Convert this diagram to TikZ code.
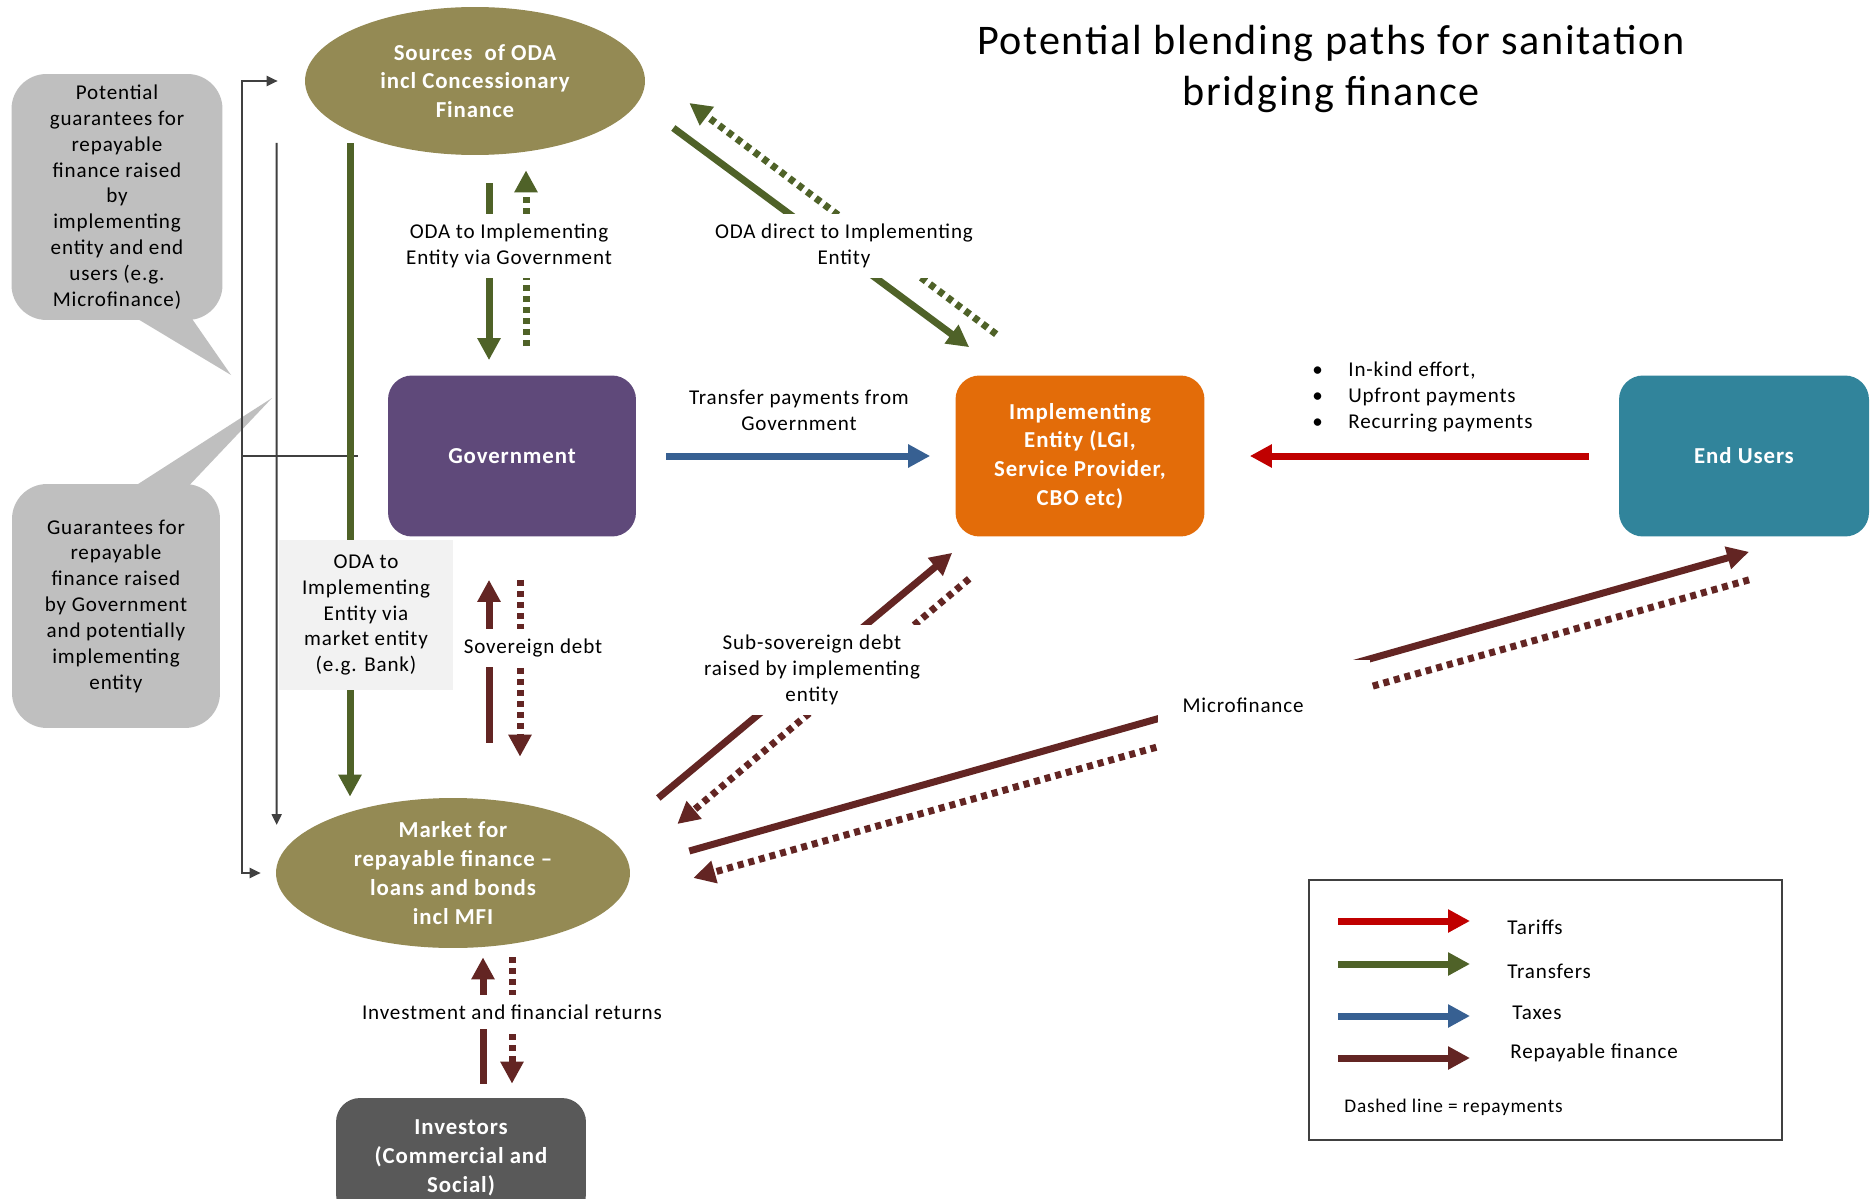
\documentclass[tikz,border=0pt]{standalone}
\usepackage{fontspec}
\setmainfont{Carlito}[LetterSpace=4]
\usepackage{tikz}
\usetikzlibrary{positioning}
\usetikzlibrary{calc}
\usetikzlibrary{arrows.meta}
\usetikzlibrary{shapes.geometric}

\definecolor{oliveoval}{HTML}{948A54}
\definecolor{govpurple}{HTML}{5F497A}
\definecolor{implorange}{HTML}{E36C09}
\definecolor{userteal}{HTML}{31849B}
\definecolor{investgray}{HTML}{595959}
\definecolor{calloutgray}{HTML}{BFBFBF}
\definecolor{bankgray}{HTML}{F2F2F2}
\definecolor{transfergreen}{HTML}{4F6228}
\definecolor{taxblue}{HTML}{376092}
\definecolor{tariffred}{HTML}{C00000}
\definecolor{loanred}{HTML}{632523}
\definecolor{guidegray}{HTML}{404040}

\begin{document}
\begin{tikzpicture}[x=0.02cm, y=-0.02cm,
bigtext/.style={text=white, font=\bfseries\fontsize{13}{16.4}\selectfont, align=center, inner sep=0pt},
fundoval/.style={bigtext, ellipse, fill=oliveoval},
actorbox/.style={bigtext, rectangle, rounded corners=0.48cm, minimum width=4.98cm, minimum height=3.22cm},
callbox/.style={rectangle, rounded corners=0.7cm, fill=calloutgray, align=center, inner sep=0pt, font=\fontsize{12}{14.7}\selectfont},
flowlabel/.style={font=\fontsize{12}{14.7}\selectfont, align=center, fill=white, inner xsep=2pt, inner ysep=0.2cm},
legendtext/.style={font=\fontsize{12}{14.7}\selectfont, anchor=west, inner sep=0pt},
flow/.style={line width=0.14cm, -{Triangle[length=0.44cm, width=0.44cm]}},
transfer/.style={flow, draw=transfergreen},
taxflow/.style={flow, draw=taxblue},
tariff/.style={flow, draw=tariffred},
loan/.style={flow, draw=loanred},
repaid/.style={dash pattern=on 0.12cm off 0.1cm},
guide/.style={draw=guidegray, line width=0.04cm, -{Triangle[length=0.22cm, width=0.2cm]}},
]
\path[use as bounding box, fill=white] (0,0) rectangle (1872,1199);

%Nodes
\node[font=\fontsize{24}{29}\selectfont, align=center] (title) at (1331,69) {Potential blending paths for sanitation\\bridging finance};
\node[fundoval, minimum width=6.8cm, minimum height=2.96cm] (sources) at (475,81) {Sources\ \ of ODA\\incl Concessionary\\Finance};
\node[actorbox, fill=govpurple, minimum width=4.96cm] (gov) at (512,456) {Government};
\node[actorbox, fill=implorange] (impl) at (1080,456) {Implementing\\Entity (LGI,\\Service Provider,\\CBO etc)};
\node[actorbox, fill=userteal, minimum width=5cm] (users) at (1744,456) {End Users};
\node[fundoval, minimum width=7.08cm, minimum height=3cm] (market) at (453,873) {Market for\\repayable finance --\\loans and bonds\\incl MFI};
\node[actorbox, fill=investgray, minimum width=5cm, minimum height=2.4cm] (investors) at (461,1158) {Investors\\(Commercial and\\Social)};

%Callouts
\node[callbox, minimum width=4.22cm, minimum height=4.92cm] (guarUsers) at (117,197) {Potential\\guarantees for\\repayable\\finance raised\\by\\implementing\\entity and end\\users (e.g.\\Microfinance)};
\coordinate (guarUsersTip) at (231,375);
\fill[calloutgray] ($(guarUsers.south)+(18,-3)$) -- (guarUsersTip) -- ($(guarUsers.south)+(74,-3)$) -- cycle;
\node[callbox, minimum width=4.16cm, minimum height=4.88cm] (guarGov) at (116,606) {Guarantees for\\repayable\\finance raised\\by Government\\and potentially\\implementing\\entity};
\coordinate (guarGovTip) at (272,398);
\fill[calloutgray] ($(guarGov.north)+(18,3)$) -- (guarGovTip) -- ($(guarGov.north)+(72,3)$) -- cycle;

%Guide lines
\coordinate (gbar) at (242,456);
\draw[guide] ($(gov.west)+(-30,0)$) -- (gbar) |- ($(sources.west)+(-27,0)$);
\draw[guide] (gbar) |- ($(market.west)+(-15,0)$);
\draw[guide] ($(sources.west)+(-28,62)$) -- ($(market.west)+(1,-48)$);

%Lines
\draw[transfer] ($(sources.south)+(-125,-12)$) -- ($(market.north)+(-103,-1)$);
\draw[transfer] ($(sources.south)+(14,28)$) -- ($(gov.north)+(-23,-15)$);
\draw[transfer, repaid] ($(gov.north)+(14,-29)$) -- ($(sources.south)+(51,15)$);
\draw[transfer] ($(sources.east)+(28,47)$) -- ($(impl.north west)+(14,-28)$);
\draw[transfer, repaid] ($(impl.north west)+(41,-41)$) -- ($(sources.east)+(44,22)$);

\draw[taxflow] ($(gov.east)+(30,0)$) -- ($(impl.west)+(-25,0)$);
\draw[tariff] ($(users.west)+(-30,0)$) -- ($(impl.east)+(45,0)$);

\draw[loan] ($(market.north)+(36,-55)$) -- ($(gov.south)+(-23,43)$);
\draw[loan, repaid] ($(gov.south)+(8,43)$) -- ($(market.north)+(67,-41)$);
\draw[loan] ($(market.east)+(28,-75)$) -- ($(impl.south west)+(-3,16)$);
\draw[loan, repaid] ($(impl.south west)+(14,42)$) -- ($(market.east)+(47,-49)$);
\draw[loan] ($(market.east)+(59,-22)$) -- ($(users.south)+(5,15)$);
\draw[loan, repaid] ($(users.south)+(5,43)$) -- ($(market.east)+(63,5)$);
\draw[loan] ($(investors.north)+(22,-14)$) -- ($(market.south)+(30,9)$);
\draw[loan, repaid] ($(market.south)+(59,9)$) -- ($(investors.north)+(51,-14)$);

%Labels
\node[flowlabel] (viaGovLbl) at (509,246) {ODA to Implementing\\Entity via Government};
\node[flowlabel] (directLbl) at (844,246) {ODA direct to Implementing\\Entity};
\node[flowlabel] (transferLbl) at (799,410) {Transfer payments from\\Government};
\node[flowlabel, fill=none, align=left, anchor=west, inner sep=0pt] (tariffLbl) at (1312,397) {\makebox[0.72cm][l]{\textbullet}In-kind effort,\\\makebox[0.72cm][l]{\textbullet}Upfront payments\\\makebox[0.72cm][l]{\textbullet}Recurring payments};
\node[flowlabel] (sovLbl) at (533,648) {Sovereign debt};
\node[flowlabel] (subsovLbl) at (812,670) {Sub-sovereign debt\\raised by implementing\\entity};
\node[flowlabel, text width=3.26cm, align=left, inner xsep=0.5cm, minimum height=1.8cm] (mfLbl) at (1264,705) {Microfinance};
\node[flowlabel] (investLbl) at (512,1012) {Investment and financial returns};
\node[flowlabel, fill=bankgray, minimum width=3.5cm, minimum height=3cm, inner sep=0pt] (bankLbl) at (366,615) {ODA to\\Implementing\\Entity via\\market entity\\(e.g. Bank)};

%Legend
\draw[guidegray, line width=0.04cm] (1309,880) rectangle (1782,1140);
\node[legendtext] (lgTariff) at (1507,927) {Tariffs};
\node[legendtext] (lgTransfer) at (1507,971) {Transfers};
\node[legendtext] (lgTax) at (1512,1013) {Taxes};
\node[legendtext] (lgLoan) at (1510,1053) {Repayable finance};
\node[legendtext, font=\fontsize{11}{13}\selectfont] (lgDashed) at (1344,1107) {Dashed line = repayments};
\draw[tariff] ($(lgTariff.west)+(-169,-6)$) -- ($(lgTariff.west)+(-37,-6)$);
\draw[transfer] ($(lgTransfer.west)+(-169,-7)$) -- ($(lgTransfer.west)+(-37,-7)$);
\draw[taxflow] ($(lgTax.west)+(-174,3)$) -- ($(lgTax.west)+(-42,3)$);
\draw[loan] ($(lgLoan.west)+(-172,5)$) -- ($(lgLoan.west)+(-40,5)$);
\end{tikzpicture}
\end{document}
